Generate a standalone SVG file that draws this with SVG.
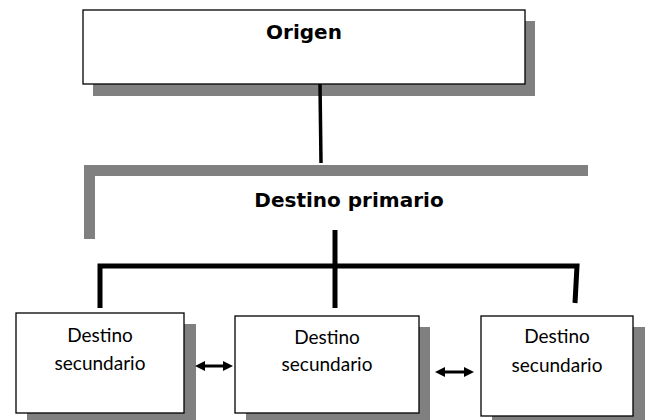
<svg xmlns="http://www.w3.org/2000/svg" width="648" height="420" viewBox="0 0 648 420">
<defs>
<style>
.box{fill:#fff;stroke:#000;stroke-width:1.3}
.shadow{fill:#808080}
.title{font-family:"DejaVu Sans",Verdana,sans-serif;font-weight:bold;font-size:20px;fill:#000;text-anchor:middle}
.lbl{font-family:Lato,"Liberation Sans",sans-serif;font-size:19px;fill:#000;text-anchor:middle}
.tree{stroke:#000;stroke-width:5;fill:none}
.arr{stroke:#000;stroke-width:3;fill:none}
</style>
<marker id="ah" viewBox="0 0 10 10" refX="6" refY="5" markerWidth="10" markerHeight="11" orient="auto-start-reverse" markerUnits="userSpaceOnUse">
<path d="M0,0 L10,5 L0,10 Z" fill="#000"/>
</marker>
</defs>
<rect width="648" height="420" fill="#fff"/>
<g id="origen">
<rect class="shadow" x="93" y="21" width="442" height="75"/>
<rect class="box" x="83" y="10" width="442" height="74"/>
<text class="title" x="304" y="39">Origen</text>
</g>
<g id="destino-primario">
<path class="shadow" d="M84,165 H588 V176 H95 V239 H84 Z"/>
<text class="title" x="349" y="207">Destino primario</text>
</g>
<g id="secundario1">
<rect class="shadow" x="27" y="324" width="169" height="102"/>
<rect class="box" x="16" y="313" width="168" height="100"/>
<text class="lbl" x="100" y="342">Destino</text>
<text class="lbl" x="100" y="370">secundario</text>
</g>
<g id="secundario2">
<rect class="shadow" x="246" y="327" width="184" height="100"/>
<rect class="box" x="235" y="316" width="184" height="97"/>
<text class="lbl" x="327" y="344">Destino</text>
<text class="lbl" x="327" y="371">secundario</text>
</g>
<g id="secundario3">
<rect class="shadow" x="492" y="327" width="153" height="100"/>
<rect class="box" x="481" y="316" width="152" height="100"/>
<text class="lbl" x="557" y="343">Destino</text>
<text class="lbl" x="557" y="372">secundario</text>
</g>
<g id="connectors">
<line x1="320" y1="84" x2="321" y2="163" stroke="#000" stroke-width="3.5"/>
<path class="tree" d="M100,308 V266 H577 L575,303"/>
<line class="tree" x1="335" y1="230" x2="335" y2="308"/>
<line class="arr" x1="199" y1="366" x2="229" y2="366" marker-start="url(#ah)" marker-end="url(#ah)"/>
<line class="arr" x1="439" y1="372" x2="470" y2="372" marker-start="url(#ah)" marker-end="url(#ah)"/>
</g>
</svg>
